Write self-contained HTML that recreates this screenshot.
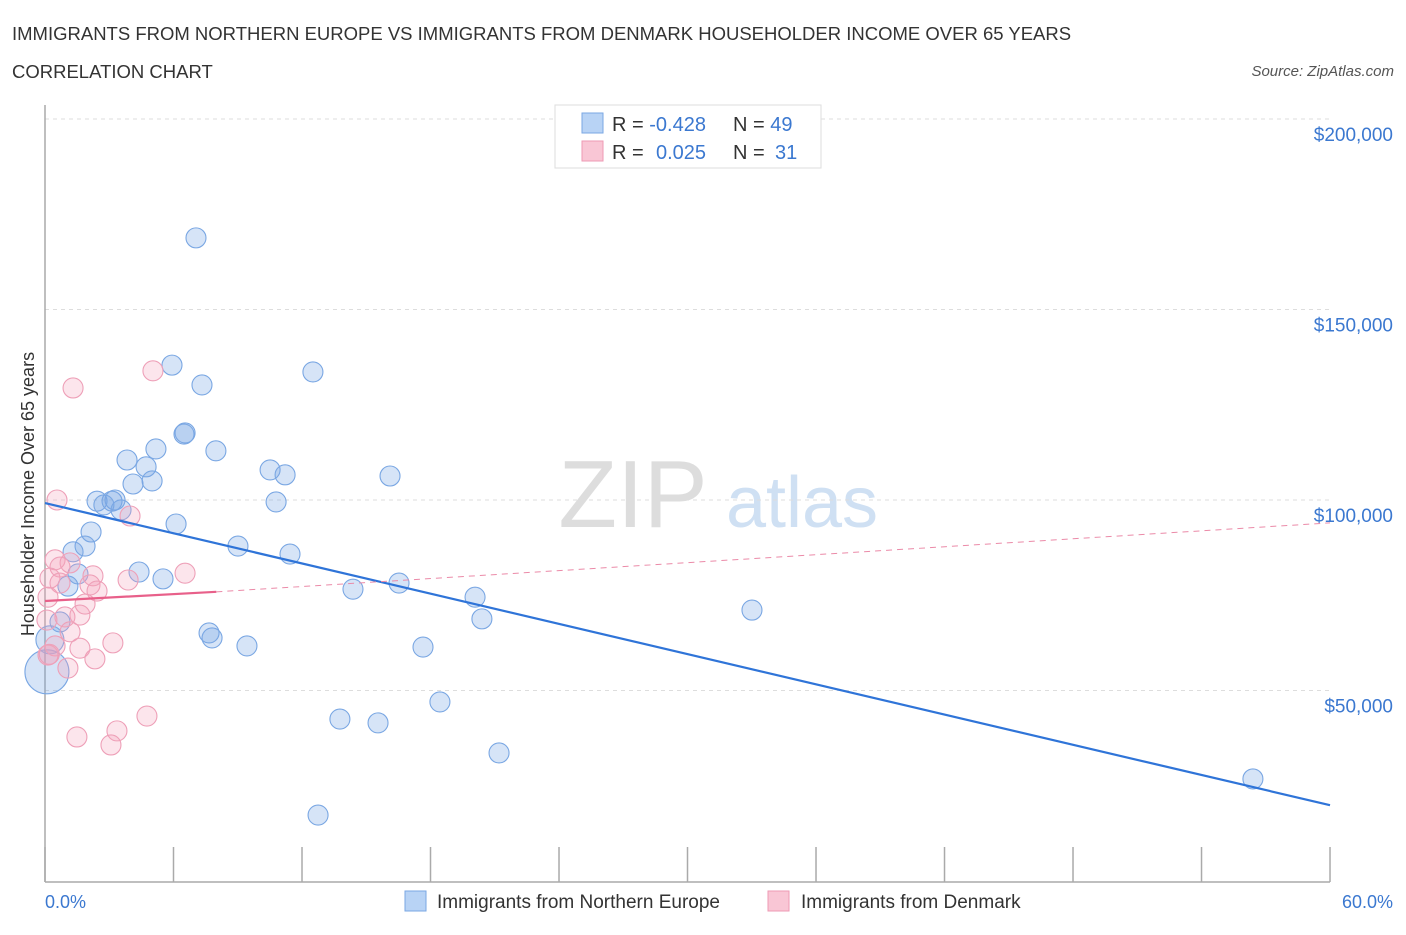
<!DOCTYPE html>
<html><head><meta charset="utf-8"><style>
body{margin:0;background:#fff;font-family:"Liberation Sans",sans-serif;}
svg text{font-family:"Liberation Sans",sans-serif;}
</style></head><body>
<svg id="chart" width="1406" height="930" xmlns="http://www.w3.org/2000/svg">
<text x="12" y="40" font-size="18.5" fill="#333">IMMIGRANTS FROM NORTHERN EUROPE VS IMMIGRANTS FROM DENMARK HOUSEHOLDER INCOME OVER 65 YEARS</text>
<text x="12" y="78" font-size="18.5" fill="#333">CORRELATION CHART</text>
<text x="1394" y="76" font-size="15" fill="#555" text-anchor="end" font-style="italic">Source: ZipAtlas.com</text>
<text x="633" y="527" font-size="96" fill="#ddd" font-family="Liberation Serif" text-anchor="middle">ZIP</text>
<text x="802" y="527" font-size="72" fill="#cfe0f3" text-anchor="middle">atlas</text>
<g id="grid"></g><g id="axes"></g><g id="pts"></g><g id="trend"></g>
<text transform="translate(34,494) rotate(-90)" font-size="18" fill="#333" text-anchor="middle">Householder Income Over 65 years</text>
<text x="45" y="908" font-size="18" fill="#3b78d0">0.0%</text>
<text x="1393" y="908" font-size="18" fill="#3b78d0" text-anchor="end">60.0%</text>
<g>
<rect x="555" y="105" width="266" height="63" fill="#fff" stroke="#ddd"/>
<rect x="582" y="113" width="21" height="20" fill="#b8d3f5" stroke="#7aa7e3"/>
<rect x="582" y="141" width="21" height="20" fill="#f9c6d5" stroke="#ee9ab4"/>
<text x="612" y="131" font-size="20" fill="#333">R = <tspan fill="#3b78d0">-0.428</tspan><tspan x="733">N = </tspan><tspan fill="#3b78d0">49</tspan></text>
<text x="612" y="159" font-size="20" fill="#333">R = <tspan x="656" fill="#3b78d0">0.025</tspan><tspan x="733">N = </tspan><tspan x="775" fill="#3b78d0">31</tspan></text>
</g>
<g>
<rect x="405" y="891" width="21" height="20" fill="#b8d3f5" stroke="#7aa7e3"/>
<text x="437" y="908" font-size="19" fill="#333">Immigrants from Northern Europe</text></g>
<g>
<rect x="768" y="891" width="21" height="20" fill="#f9c6d5" stroke="#ee9ab4"/>
<text x="801" y="908" font-size="19" fill="#333">Immigrants from Denmark</text></g>
</svg>
<script>
const yTicks=[50000,100000,150000,200000];
const yTickLabels=["$50,000","$100,000","$150,000","$200,000"];
const blueX=[7.05,5.93,7.33,12.51,6.54,6.49,7.98,5.18,3.83,4.72,5.00,10.51,11.21,16.11,4.11,2.43,3.13,3.27,2.75,10.79,3.55,6.12,2.15,1.87,1.31,9.01,11.44,4.39,1.54,5.51,1.07,14.38,16.53,20.08,33.01,20.40,0.70,7.66,7.80,9.43,17.65,0.23,0.09,18.44,13.77,15.55,21.20,56.40,12.75];
const blueY=[168.8,135.4,130.2,133.6,117.6,117.3,112.9,113.4,110.5,108.7,105.0,107.9,106.6,106.3,104.2,99.7,99.7,100,98.7,99.5,97.4,93.7,91.6,87.9,86.4,87.9,85.8,81.1,80.6,79.3,77.4,76.6,78.2,74.5,71.1,68.8,68.0,65.1,63.8,61.7,61.4,63.3,54.9,47.0,42.5,41.5,33.6,26.8,17.3];
const blueR=[10,10,10,10,10,10,10,10,10,10,10,10,10,10,10,10,10,10,10,10,10,10,10,10,10,10,10,10,10,10,10,10,10,10,10,10,10,10,10,10,10,14,22,10,10,10,10,10,10];
const pinkX=[1.31,5.04,0.56,3.97,0.47,1.17,0.70,0.23,0.70,2.24,2.10,2.43,1.87,3.88,6.54,0.93,1.63,0.14,0.09,1.17,0.47,3.17,1.63,2.33,0.14,1.07,4.76,3.36,1.49,3.08,0.2];
const pinkY=[129.4,133.9,100,95.8,84.3,83.5,82.4,79.5,78.2,80.1,77.7,76.1,72.7,79.0,80.8,69.3,69.8,74.5,68.5,65.4,61.7,62.5,61.1,58.3,59.3,55.9,43.3,39.4,37.8,35.7,59.5];
const blueTrend=[[0,99.2],[60,19.9]];
const pinkTrend=[[0,73.5],[8,75.9],[60,94]];
const X=p=>45+p*21.417, Y=k=>500-(k-100)*3.81;
const NS="http://www.w3.org/2000/svg";
function mk(tag,parent,attrs){const e=document.createElementNS(NS,tag);for(const k in attrs)e.setAttribute(k,attrs[k]);document.getElementById(parent).appendChild(e);return e;}
yTicks.forEach((v,i)=>{const y=Y(v/1000);
const g=mk('line','grid',{x1:45,x2:1330,y1:y,y2:y,stroke:'#ddd','stroke-dasharray':'4,4'});


const t=mk('text','grid',{x:1393,y:y+22,'font-size':19,fill:'#3b78d0','text-anchor':'end'});t.textContent=yTickLabels[i];

});
const ya=mk('line','axes',{x1:45,x2:45,y1:105,y2:882,stroke:'#aaa','stroke-width':1.5});


const xa=mk('line','axes',{x1:45,x2:1330,y1:882,y2:882,stroke:'#aaa','stroke-width':1.5});


for(let i=0;i<=10;i++){const x=X(i*6);const t=mk('line','axes',{x1:x,x2:x,y1:847,y2:882,stroke:'#aaa','stroke-width':1.5});

}
blueX.forEach((p,i)=>{const c=mk('circle','pts',{cx:X(p),cy:Y(blueY[i]),r:blueR[i],fill:'rgba(120,165,230,0.3)',stroke:'#7aa7e3','stroke-width':1.1});

});
pinkX.forEach((p,i)=>{const c=mk('circle','pts',{cx:X(p),cy:Y(pinkY[i]),r:10,fill:'rgba(245,160,185,0.28)',stroke:'#eea0b8','stroke-width':1.1});

});
const bl=mk('line','trend',{x1:X(blueTrend[0][0]),y1:Y(blueTrend[0][1]),x2:X(blueTrend[1][0]),y2:Y(blueTrend[1][1]),stroke:'#2f74d8','stroke-width':2.2});


const pl=mk('line','trend',{x1:X(pinkTrend[0][0]),y1:Y(pinkTrend[0][1]),x2:X(pinkTrend[1][0]),y2:Y(pinkTrend[1][1]),stroke:'#e8608a','stroke-width':2.2});


const pd=mk('line','trend',{x1:X(pinkTrend[1][0]),y1:Y(pinkTrend[1][1]),x2:X(pinkTrend[2][0]),y2:Y(pinkTrend[2][1]),stroke:'#eb8aa8','stroke-width':1,'stroke-dasharray':'6,5'});


</script>
</body></html>
